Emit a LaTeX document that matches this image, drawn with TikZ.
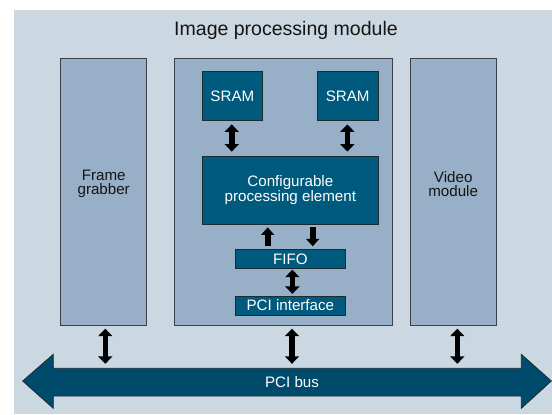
\documentclass[tikz,border=0pt]{standalone}
\usepackage{fontspec}
\setmainfont{Liberation Sans}
\usetikzlibrary{arrows.meta}

\definecolor{panel}{HTML}{CBD8E2}
\definecolor{modfill}{HTML}{98B0C7}
\definecolor{modedge}{HTML}{3A4048}
\definecolor{chipfill}{HTML}{005A7D}
\definecolor{chipedge}{HTML}{1C2A32}
\definecolor{busfill}{HTML}{004B6C}
\definecolor{inktext}{HTML}{141414}

\begin{document}
\begin{tikzpicture}[x=1bp,y=-1bp,
  modbox/.style={draw=modedge, fill=modfill, line width=0.8bp, inner sep=0pt},
  modtxt/.style={text=inktext, align=center, inner sep=0pt,
    font=\fontsize{15.2}{14.2}\selectfont},
  chip/.style={draw=chipedge, fill=chipfill, line width=0.8bp, inner sep=0pt,
    text=white, align=center, font=\fontsize{15.2}{14.5}\selectfont},
  dbl/.style={line width=5.5bp, {Triangle[width=14bp,length=7.5bp]}-{Triangle[width=14bp,length=7.5bp]}},
  sgl/.style={line width=6bp, -{Triangle[width=13bp,length=7.5bp]}},
]
\useasboundingbox (0,0) rectangle (552,414);

% light panel behind everything
\fill[panel] (14,10) rectangle (552,414);

% title
\node[text=inktext, font=\fontsize{19.6}{21}\selectfont] (title) at (286,30) {Image processing module};

% the three modules
\node[modbox, minimum width=86bp, minimum height=266.5bp] (fg) at (103.7,191.75) {};
\node[modbox, minimum width=218.7bp, minimum height=266.5bp] (ipm) at (283.35,191.75) {};
\node[modbox, minimum width=85.7bp, minimum height=266.5bp] (vm) at (453.2,191.75) {};
\node[modtxt] (fgtxt) at ([yshift=8bp]fg.center) {Frame\\grabber};
\node[modtxt] (vmtxt) at ([yshift=8bp]vm.center) {Video\\module};

% blocks inside the image processing module
\node[chip, minimum width=59.3bp, minimum height=48.3bp] (sram1) at (232.35,95.85) {SRAM};
\node[chip, minimum width=60.7bp, minimum height=48.3bp] (sram2) at (347.65,95.85) {SRAM};
\node[chip, minimum width=175.3bp, minimum height=68bp] (cpe) at (290.35,190) {Configurable\\processing element};
\node[chip, minimum width=110.7bp, minimum height=19bp] (fifo) at (290.35,258.8) {FIFO};
\node[chip, minimum width=110.7bp, minimum height=19bp] (pci) at (290.35,305.5) {PCI interface};

% PCI bus: a wide double-headed arrow
\fill[busfill, draw=chipedge, line width=0.8bp]
  (22.7,381) -- (53.3,354.3) -- (53.3,368.3) -- (521.3,368.3) -- (521.3,354.3)
  -- (551.3,381) -- (521.3,408.3) -- (521.3,396) -- (53.3,396) -- (53.3,408.3) -- cycle;
\node[text=white, font=\fontsize{15.2}{16}\selectfont, minimum height=27.7bp, inner sep=0pt] (bus) at (292,382.15) {PCI bus};

% data paths
\draw[dbl, shorten <=4bp, shorten >=4bp] ([xshift=-0.6bp]sram1.south) -- ([xshift=-0.6bp]sram1.south |- cpe.north);
\draw[dbl, shorten <=4bp, shorten >=4bp] ([xshift=-0.3bp]sram2.south) -- ([xshift=-0.3bp]sram2.south |- cpe.north);
\draw[sgl, shorten <=2.6bp, shorten >=3bp] ([xshift=-22.65bp]fifo.north) -- ([xshift=-22.65bp]fifo.north |- cpe.south);
\draw[sgl, shorten <=3bp, shorten >=2.6bp] ([xshift=22.35bp]fifo.north |- cpe.south) -- ([xshift=22.35bp]fifo.north);
\draw[dbl, shorten <=1bp, shorten >=1.7bp] ([xshift=2bp]fifo.south) -- ([xshift=2bp]fifo.south |- pci.north);
\draw[dbl, shorten <=3.3bp, shorten >=4.3bp] ([xshift=1.6bp]fg.south) -- ([xshift=1.6bp]fg.south |- bus.north);
\draw[dbl, shorten <=3.3bp, shorten >=4.3bp] ([xshift=8.65bp]ipm.south) -- ([xshift=8.65bp]ipm.south |- bus.north);
\draw[dbl, shorten <=3.3bp, shorten >=4.3bp] ([xshift=4.1bp]vm.south) -- ([xshift=4.1bp]vm.south |- bus.north);
\end{tikzpicture}
\end{document}
